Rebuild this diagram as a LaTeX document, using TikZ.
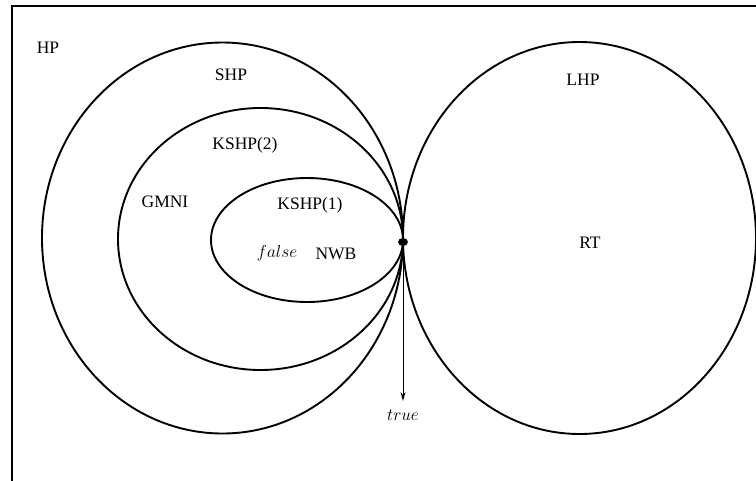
\documentclass[tikz,border=0pt]{standalone}
\usepackage{fontspec}
\setmainfont{Liberation Serif}
\usetikzlibrary{shapes.geometric,arrows.meta}
\begin{document}
\begin{tikzpicture}[x=1pt,y=-1pt,
  set/.style={line width=1.9pt},
  lbl/.style={font=\fontsize{17.5}{20}\selectfont, inner sep=0pt},
  mlbl/.style={font=\fontsize{16.5}{20}\selectfont, inner sep=0pt}]
  \useasboundingbox (0,0) rectangle (756,480);
  \clip (0,0) rectangle (756,480);
  % outer frame (universe HP)
  \draw[line width=2.4pt] (12,6) rectangle (790,510);
  % nested sets meeting at one point
  \draw[set] (222.5,238) ellipse [x radius=180.5, y radius=195.5];
  \draw[set] (260.5,239) ellipse [x radius=142.5, y radius=131];
  \draw[set] (307,240) ellipse [x radius=96, y radius=62];
  \draw[set] (579.5,238) ellipse [x radius=176.5, y radius=196];
  % common point and arrow
  \node[ellipse, fill=black, minimum width=10pt, minimum height=8pt, inner sep=0pt] (dot) at (403,242) {};
  \node[mlbl] (true) at (403,415) {$true$};
  \draw[line width=1pt, -{Stealth[length=9pt,width=5pt]}] (dot) -- (403,401);
  % labels
  \node[lbl] (hp) at (48,48) {HP};
  \node[lbl] (shp) at (231,75) {SHP};
  \node[lbl] (kshp2) at (245,145) {KSHP(2)};
  \node[lbl] (gmni) at (165,202) {GMNI};
  \node[lbl] (kshp1) at (310,205) {KSHP(1)};
  \node[mlbl] (false) at (277,253) {$false$};
  \node[lbl] (nwb) at (336,254) {NWB};
  \node[lbl] (lhp) at (583,80) {LHP};
  \node[lbl] (rt) at (590,243) {RT};
\end{tikzpicture}
\end{document}
